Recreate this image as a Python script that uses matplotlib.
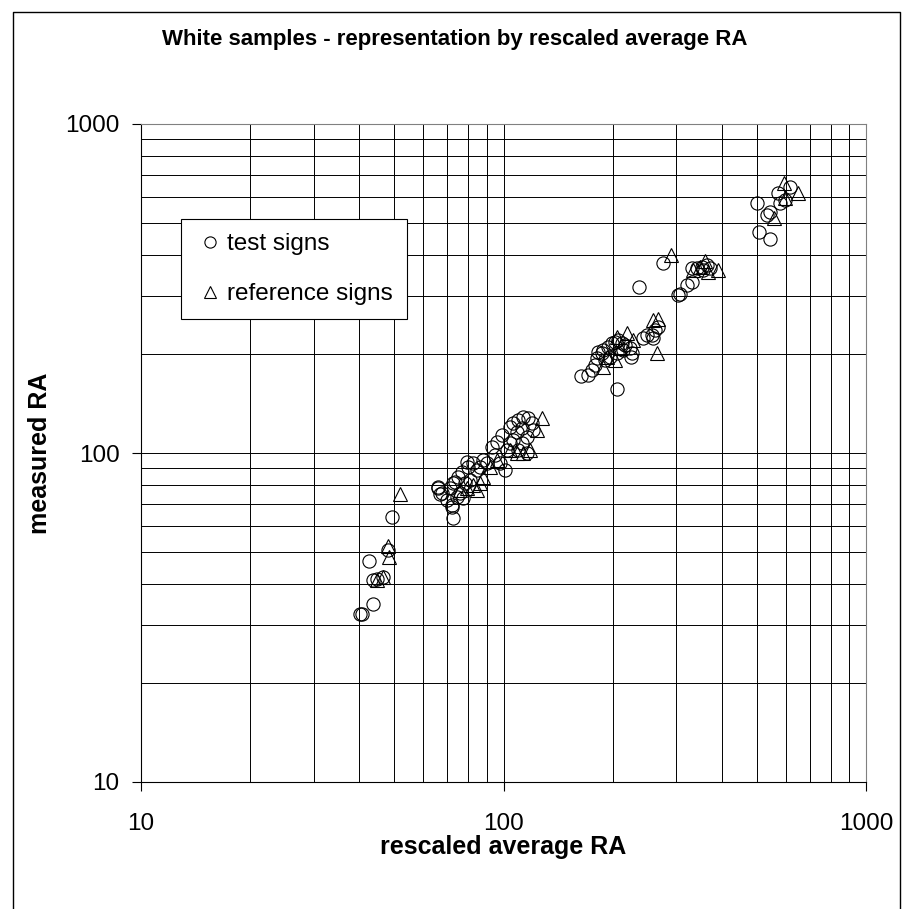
import numpy as np
import matplotlib
matplotlib.use("Agg")
import matplotlib.pyplot as plt
from matplotlib.lines import Line2D
from matplotlib.ticker import FixedLocator, NullFormatter

plt.rcParams['font.family'] = ['Liberation Sans', 'DejaVu Sans']

# test signs (circles)
test_x = [40.2, 40.6, 43.7, 42.6, 43.6, 44.9, 46.4, 47.9, 49.4,
          66.1, 66.8, 72.7, 72.2, 66.1, 67.5, 69.7, 71.9, 71.2, 73.5, 75.1,
          76.7, 79.1, 80.0, 82.6, 84.3, 86.1, 88.0, 89.9, 80.8, 78.3, 75.9,
          77.5, 74.3, 72.7, 100.9, 97.8, 94.8, 92.8, 95.8, 98.8, 104.2, 106.4,
          109.9, 113.4, 117.1, 119.6, 120.9, 115.8, 112.2, 109.9, 115.8, 106.4,
          104.2, 102.0, 108.7, 112.2,
          164, 171.4, 175.1, 178.8, 180.7, 186.6, 188.6, 194.6, 198.8, 203.0,
          207.4, 211.8, 216.3, 223.4, 225.7, 224.3, 196.7, 190.5, 205.2, 214.1,
          243.1, 248.3, 256.3, 261.8, 267.4, 259, 182.6, 206, 237, 276, 303.6,
          306.8, 320, 330.5, 330.5, 341, 352, 363.5, 371, 356,
          617, 573, 598, 579, 543.6, 532, 501, 508, 543.6]
test_y = [32.4, 32.4, 34.8, 46.9, 41.1, 41.3, 41.9, 50.7, 63.7,
          78.6, 75.1, 63.3, 68.7, 78.1, 75.4, 71.9, 69.5, 78.1, 81.8, 84.8,
          87.8, 94.1, 90.9, 93.0, 88.8, 90.9, 95.2, 93.0, 82.8, 80.9, 75.4,
          72.8, 73.7, 80.9, 88.8, 93.0, 98.6, 104.5, 108.2, 113.4, 120.2, 123.1,
          126.0, 129.0, 127.5, 123.1, 117.5, 112.1, 107.0, 102.1, 99.8, 109.5,
          107.0, 102.1, 116.1, 118.9,
          171, 172.6, 178.8, 185.1, 194.0, 200.9, 205.6, 210.5, 215.5, 218,
          220.5, 215.5, 213, 208, 200.9, 195.4, 196.3, 191.8, 200.9, 205.6,
          223.1, 228.4, 228.4, 236.5, 242.1, 223.1, 203.2, 156.1, 320, 377, 302,
          304, 324, 331.7, 364, 364, 368.5, 372.8, 364, 359.8,
          642, 616, 587.5, 574, 541, 529, 577, 470.7, 446]

# reference signs (triangles)
ref_x = [44.9, 46.4, 47.9, 48.3, 51.9,
         127.4, 123.4, 118.3, 113.4, 108.7, 104.2, 88.0, 86.1, 84.3, 82.6,
         79.1, 75.9, 95.8, 91.8,
         205.2, 219.5, 259, 267.4, 264.5, 203, 192.6, 209.6, 228.1, 188.6,
         290, 334, 348, 359.6, 367, 391.4,
         595, 648, 558.6, 597.8]
ref_y = [41.1, 41.9, 52.3, 48.4, 74.9,
         127.5, 117.5, 102.1, 99.8, 99.8, 102.1, 84.8, 80.9, 77.2, 79.9,
         78.1, 77.2, 95.2, 90.9,
         225.7, 231, 253.7, 254.8, 200.9, 191.8, 196.3, 208, 220.5, 183,
         400, 360, 368.5, 384, 355.7, 360,
         660, 616, 516.9, 594.5]

major_ticks = [10, 100, 1000]
tick_labels = ['10', '100', '1000']

fig = plt.figure(figsize=(9.09, 9.09), dpi=100)
ax = fig.add_axes([141 / 909, 1 - 782 / 909, 725 / 909, 658 / 909])

ax.plot(test_x, test_y, linestyle='none', marker='o', markersize=9.5,
        markerfacecolor='none', markeredgecolor='black', markeredgewidth=0.8,
        label='test signs')
ax.plot(ref_x, ref_y, linestyle='none', marker='^', markersize=10,
        markerfacecolor='none', markeredgecolor='black', markeredgewidth=0.8,
        label='reference signs')

ax.set_xscale('log')
ax.set_yscale('log')
ax.set_xlim(10, 1000)
ax.set_ylim(10, 1000)

minors = [m * d for d in (10, 100) for m in range(2, 10)]
for axis in (ax.xaxis, ax.yaxis):
    axis.set_major_locator(FixedLocator(major_ticks))
    axis.set_minor_locator(FixedLocator(minors))
    axis.set_minor_formatter(NullFormatter())
ax.set_xticklabels(tick_labels)
ax.set_yticklabels(tick_labels)

ax.grid(which='both', color='black', linewidth=0.7)
ax.set_axisbelow(True)
ax.tick_params(which='major', direction='out', length=6.5, width=0.8,
               labelsize=17.5, top=False, right=False)
ax.tick_params(axis='x', which='major', pad=16)
ax.tick_params(axis='y', which='major', pad=9)
ax.tick_params(which='minor', length=0)
for side in ('top', 'right'):
    ax.spines[side].set_color('#808080')
    ax.spines[side].set_linewidth(0.8)
for side in ('left', 'bottom'):
    ax.spines[side].set_color('black')
    ax.spines[side].set_linewidth(0.8)

fig.text(0.5, 1 - 40 / 909, 'White samples - representation by rescaled average RA',
         ha='center', va='center', fontsize=16, fontweight='bold')
fig.text(503 / 909, 1 - 847 / 909, 'rescaled average RA',
         ha='center', va='center', fontsize=18, fontweight='bold')
fig.text(40 / 909, 1 - 453 / 909, 'measured RA', rotation=90,
         ha='center', va='center', fontsize=18, fontweight='bold')

leg = ax.legend(loc='upper left', bbox_to_anchor=(181 / 909, 1 - 219 / 909),
                bbox_transform=fig.transFigure, fontsize=17.5, frameon=True,
                fancybox=False, shadow=False, borderaxespad=0,
                handlelength=1.2, handletextpad=0.1, labelspacing=1.15,
                borderpad=0.58, markerscale=0.85)
leg.get_frame().set_edgecolor('black')
leg.get_frame().set_linewidth(0.8)
leg.get_frame().set_alpha(1)

# chart area border
fig.add_artist(Line2D([13 / 909, 13 / 909, 900 / 909, 900 / 909],
                      [0, 1 - 12 / 909, 1 - 12 / 909, 0],
                      transform=fig.transFigure, color='black', linewidth=1))

fig.savefig('out.png', dpi=100)
